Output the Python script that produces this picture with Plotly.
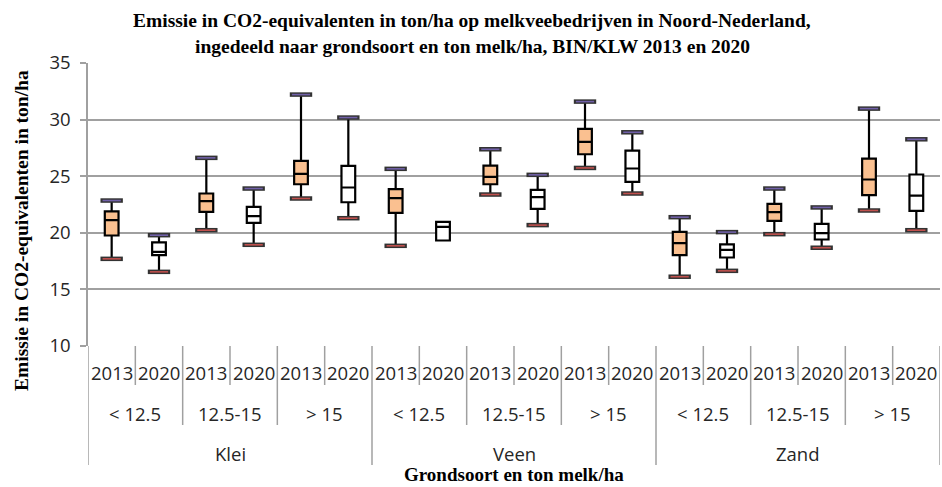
import plotly.graph_objects as go

# ---- data ----
soils = ["Klei", "Veen", "Zand"]
classes = ["< 12.5", "12.5-15", "> 15"]
years = ["2013", "2020"]

min_2013 = [17.7, 20.23, 23.03, 18.85, 23.38, 25.73, 16.12, 19.88, 21.97]
q1_2013 = [19.76, 21.85, 24.29, 21.76, 24.29, 26.94, 18.03, 21.06, 23.32]
med_2013 = [21.12, 22.8, 25.2, 23.06, 24.94, 28.03, 19.09, 21.82, 24.71]
q3_2013 = [21.9, 23.47, 26.35, 23.85, 25.94, 29.18, 20.09, 22.56, 26.56]
max_2013 = [22.85, 26.62, 32.21, 25.65, 27.38, 31.59, 21.38, 23.91, 30.97]

min_2020 = [16.55, 18.94, 21.29, 19.32, 20.68, 23.47, 16.64, 18.68, 20.23]
q1_2020 = [18.03, 20.88, 22.7, 19.32, 22.12, 24.5, 17.82, 19.41, 21.94]
med_2020 = [18.32, 21.47, 24.0, 20.53, 23.15, 25.68, 18.5, 19.97, 23.29]
q3_2020 = [19.15, 22.29, 25.91, 20.97, 23.79, 27.26, 18.97, 20.79, 25.15]
max_2020 = [19.79, 23.91, 30.18, 20.97, 25.12, 28.88, 20.06, 22.24, 28.26]

y_ticks = [10, 15, 20, 25, 30, 35]

# ---- geometry helpers ----
W, H = 942, 487
ML, MR, MT, MB = 88, 2, 63, 141
PH = H - MT - MB
PW = W - ML - MR
n_groups = len(soils) * len(classes)
n_cat = n_groups * len(years)

def py(pix):
    """convert page pixel y to paper y"""
    return (H - MB - pix) / PH

def px(pix):
    """convert page pixel x to paper x"""
    return (pix - ML) / PW

pos_2013 = [2 * k for k in range(n_groups)]
pos_2020 = [2 * k + 1 for k in range(n_groups)]

fig = go.Figure()

series = [
    (pos_2013, min_2013, q1_2013, med_2013, q3_2013, max_2013, "#FAC090"),
    (pos_2020, min_2020, q1_2020, med_2020, q3_2020, max_2020, "#FFFFFF"),
]
for pos, mn, q1, md, q3, mx, fill in series:
    fig.add_trace(go.Box(
        x=pos, q1=q1, median=md, q3=q3, lowerfence=mn, upperfence=mx,
        width=0.29, whiskerwidth=0, fillcolor=fill,
        line=dict(color="#000000", width=2.2), boxpoints=False,
        showlegend=False, hoverinfo="skip",
    ))

# whisker caps
for pos, mn, q1, md, q3, mx, fill in series:
    top_x = [p for p, a, b in zip(pos, mx, q3) if a > b]
    top_y = [a for a, b in zip(mx, q3) if a > b]
    bot_x = [p for p, a, b in zip(pos, mn, q1) if a < b]
    bot_y = [a for a, b in zip(mn, q1) if a < b]
    for xs, ys, col in [(top_x, top_y, "#7060A8"), (bot_x, bot_y, "#C0504D")]:
        fig.add_trace(go.Scatter(
            x=xs, y=ys, mode="markers", showlegend=False, hoverinfo="skip",
            marker=dict(symbol="line-ew", size=16, color="#333333",
                        line=dict(color="#333333", width=4.5)),
        ))
        fig.add_trace(go.Scatter(
            x=xs, y=ys, mode="markers", showlegend=False, hoverinfo="skip",
            marker=dict(symbol="line-ew", size=13, color=col,
                        line=dict(color=col, width=1.6)),
        ))

# ---- x category labels and dividers ----
shapes = []
annotations = []
label_font = dict(family="Open Sans", size=18.5, color="#262626")
for i in range(n_cat + 1):
    b = i - 0.5
    if i % (len(years) * len(classes)) == 0:
        end = 465
    elif i % len(years) == 0:
        end = 425
    else:
        end = 385
    shapes.append(dict(type="line", xref="x", yref="paper", x0=b, x1=b,
                       y0=0, y1=py(end), line=dict(color="#A0A0A0", width=1.5)))
for i in range(n_cat):
    annotations.append(dict(x=i, y=py(372), xref="x", yref="paper",
                            text=years[i % len(years)], showarrow=False,
                            font=label_font, xanchor="center", yanchor="middle"))
for g in range(n_groups):
    annotations.append(dict(x=g * 2 + 0.5, y=py(413), xref="x", yref="paper",
                            text=classes[g % len(classes)], showarrow=False,
                            font=label_font, xanchor="center", yanchor="middle"))
for s, soil in enumerate(soils):
    annotations.append(dict(x=s * 6 + 2.5, y=py(453), xref="x", yref="paper",
                            text=soil, showarrow=False,
                            font=label_font, xanchor="center", yanchor="middle"))

serif_title = dict(family="Liberation Serif", size=19.5, color="#000000")
serif_x = dict(family="Liberation Serif", size=19, color="#000000")
annotations.append(dict(x=(n_cat - 1) / 2, y=py(486.5), xref="x", yref="paper",
                        text="<b>Grondsoort en ton melk/ha</b>", showarrow=False,
                        font=serif_x, xanchor="center", yanchor="bottom"))
annotations.append(dict(x=px(21), y=py(231), xref="paper", yref="paper",
                        text="<b>Emissie in CO2-equivalenten in ton/ha</b>",
                        showarrow=False, textangle=-90, font=serif_title,
                        xanchor="center", yanchor="middle"))
title_lines = [
    "Emissie in CO2-equivalenten in ton/ha op melkveebedrijven in Noord-Nederland,",
    "ingedeeld naar grondsoort en ton melk/ha, BIN/KLW 2013 en 2020",
]
for j, t in enumerate(title_lines):
    annotations.append(dict(x=px(472), y=py(20 + 26 * j),
                            xref="paper", yref="paper", text="<b>" + t + "</b>",
                            showarrow=False, font=serif_title,
                            xanchor="center", yanchor="middle"))

fig.update_layout(
    width=W, height=H,
    margin=dict(l=ML, r=MR, t=MT, b=MB, pad=0),
    paper_bgcolor="white", plot_bgcolor="white",
    shapes=shapes, annotations=annotations,
    xaxis=dict(range=[-0.5, n_cat - 0.5], showticklabels=False, showgrid=False,
               zeroline=False, showline=False, ticks=""),
    yaxis=dict(range=[10, 35], tickvals=y_ticks, showgrid=True,
               gridcolor="#A0A0A0", gridwidth=1.5, zeroline=False,
               showline=True, linecolor="#A0A0A0", linewidth=1.5,
               ticks="outside", ticklen=6, tickcolor="#A0A0A0", tickwidth=1.5,
               ticklabelstandoff=6,
               tickfont=dict(family="Open Sans", size=18.5, color="#262626")),
)

fig.write_html("out.html")
